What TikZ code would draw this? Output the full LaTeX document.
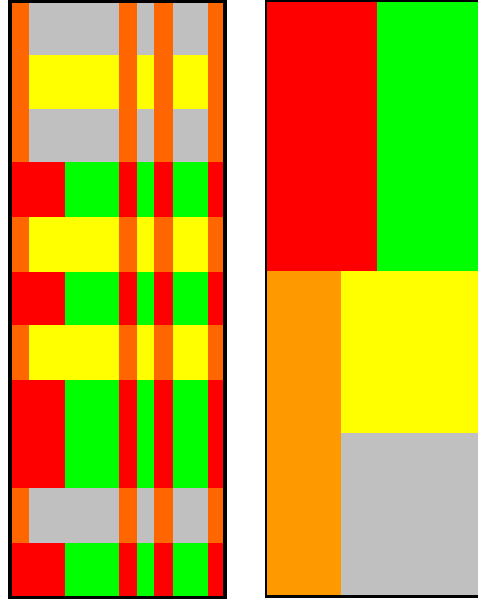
\documentclass[tikz,border=0pt]{standalone}
\definecolor{cRed}{HTML}{FF0000}
\definecolor{cGreen}{HTML}{00FF00}
\definecolor{cYellow}{HTML}{FFFF00}
\definecolor{cGray}{HTML}{C0C0C0}
\definecolor{cOrangeA}{HTML}{FF6600}
\definecolor{cOrangeB}{HTML}{FF9900}
\begin{document}
\begin{tikzpicture}[x=1pt,y=-1pt,
  cell/.style={draw=none},
  frame/.style={draw=black}]
\useasboundingbox (0,0) rectangle (478,602);
\clip (0,0) rectangle (478,602);
\fill[white] (0,0) rectangle (478,602);
% ---- left panel ----
% row tops (11 rows) and types: g=gray, y=yellow, r=red/green
\foreach \t/\b/\k in {3/55/g,55/109/y,109/162/g,162/217/r,217/272/y,272/325/r,325/380/y,380/434/r,434/488/r,488/543/g,543/596/r}{
  \if\k r
    \fill[cRed]   (12,\t) rectangle (65,\b);
    \fill[cGreen] (65,\t) rectangle (119,\b);
    \fill[cRed]   (119,\t) rectangle (137,\b);
    \fill[cGreen] (137,\t) rectangle (154,\b);
    \fill[cRed]   (154,\t) rectangle (173,\b);
    \fill[cGreen] (173,\t) rectangle (208,\b);
    \fill[cRed]   (208,\t) rectangle (223.5,\b);
  \else
    \if\k y \def\wc{cYellow}\else \def\wc{cGray}\fi
    \fill[cOrangeA] (12,\t) rectangle (29,\b);
    \fill[\wc]      (29,\t) rectangle (119,\b);
    \fill[cOrangeA] (119,\t) rectangle (137,\b);
    \fill[\wc]      (137,\t) rectangle (154,\b);
    \fill[cOrangeA] (154,\t) rectangle (173,\b);
    \fill[\wc]      (173,\t) rectangle (208,\b);
    \fill[cOrangeA] (208,\t) rectangle (223.5,\b);
  \fi
}
\draw[frame, line width=3.5] (10,1.5) rectangle (225,597.5);
% ---- right panel ----
\fill[cRed]     (267,1) rectangle (377,271);
\fill[cGreen]   (377,1) rectangle (482,271);
\fill[cOrangeB] (267,271) rectangle (341,596);
\fill[cYellow]  (341,271) rectangle (482,433);
\fill[cGray]    (341,433) rectangle (482,596);
\draw[frame, line width=2.5] (266,0.5) rectangle (485,596.5);
\end{tikzpicture}
\end{document}
